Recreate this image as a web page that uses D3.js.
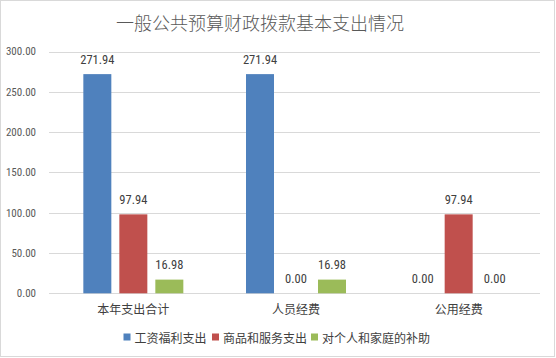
<!DOCTYPE html>
<html><head><meta charset="utf-8">
<script src="https://cdn.jsdelivr.net/npm/d3@7/dist/d3.min.js"></script>
<style>body{margin:0;background:#fff}</style>
</head><body>
<svg id="c" width="556" height="358"></svg>
<script>
const title = "一般公共预算财政拨款基本支出情况";
const categories = ["本年支出合计", "人员经费", "公用经费"];
const seriesNames = ["工资福利支出", "商品和服务支出", "对个人和家庭的补助"];
const seriesWages = [271.94, 271.94, 0.00];
const seriesGoods = [97.94, 0.00, 97.94];
const seriesFamily = [16.98, 16.98, 0.00];
const yTicks = [0, 50, 100, 150, 200, 250, 300];
const colors = ["#4F81BD", "#C0504D", "#9BBB59"];

const seriesValues = [seriesWages, seriesGoods, seriesFamily];
const numFont = "'Roboto Condensed','Liberation Sans Narrow',Roboto,sans-serif";
const cjkFont = "'Noto Sans CJK SC','Noto Sans',sans-serif";

const svg = d3.select("#c");
svg.append("rect").attr("x",0.5).attr("y",0.5).attr("width",554).attr("height",356)
  .attr("fill","#fff").attr("stroke","#D9D9D9").attr("stroke-width",1);

svg.append("text").attr("x",260).attr("y",22).attr("text-anchor","middle")
  .attr("dominant-baseline","central").attr("font-family",cjkFont).attr("font-size",18)
  .attr("font-weight",300).attr("fill","#595959").text(title);

const y = d3.scaleLinear().domain([0,300]).range([293.3,51.5]);
const x0 = d3.scaleBand().domain(categories).range([52,540]).paddingInner(0).paddingOuter(0);
const x1 = d3.scaleBand().domain(d3.range(seriesNames.length)).range([0,100]).paddingInner(8/36).paddingOuter(0);

// gridlines
svg.append("g").selectAll("line").data(yTicks).join("line")
  .attr("x1",49).attr("x2",540)
  .attr("y1",d=>Math.round(y(d))+0.5).attr("y2",d=>Math.round(y(d))+0.5)
  .attr("stroke","#D9D9D9").attr("stroke-width",1);

// y tick labels
svg.append("g").selectAll("text").data(yTicks).join("text")
  .attr("x",36).attr("y",d=>y(d)).attr("text-anchor","end").attr("dy","0.35em")
  .attr("font-family",numFont).attr("font-size",11).attr("fill","#595959")
  .text(d=>d3.format(".2f")(d));

// bars
const groups = svg.append("g").selectAll("g").data(categories).join("g")
  .attr("transform",(d)=>`translate(${x0(d)+x0.bandwidth()/2-50},0)`);
groups.each(function(cat, ci){
  const g = d3.select(this);
  const data = seriesValues.map((s,si)=>({si, v:s[ci]}));
  g.selectAll("rect").data(data).join("rect")
    .attr("x",d=>x1(d.si)).attr("width",x1.bandwidth())
    .attr("y",d=>y(d.v)).attr("height",d=>y(0)-y(d.v))
    .attr("fill",d=>colors[d.si]);
  g.selectAll("text").data(data).join("text")
    .attr("x",d=>x1(d.si)+x1.bandwidth()/2).attr("y",d=>y(d.v)-10.5)
    .attr("text-anchor","middle").attr("font-family",numFont).attr("font-size",12.5)
    .attr("fill","#404040").text(d=>d3.format(".2f")(d.v));
});

// category labels
svg.append("g").selectAll("text").data(categories).join("text")
  .attr("x",d=>x0(d)+x0.bandwidth()/2).attr("y",308.5).attr("dominant-baseline","central")
  .attr("text-anchor","middle").attr("font-family",cjkFont).attr("font-size",12)
  .attr("fill","#404040").text(d=>d);

// legend
const legendX = [123.5, 212, 311];
const lg = svg.append("g").selectAll("g").data(seriesNames).join("g")
  .attr("transform",(d,i)=>`translate(${legendX[i]},337)`);
lg.append("rect").attr("x",0).attr("y",-3.5).attr("width",7).attr("height",7).attr("fill",(d,i)=>colors[i]);
lg.append("text").attr("x",11).attr("y",0).attr("dominant-baseline","central")
  .attr("font-family",cjkFont).attr("font-size",12).attr("fill","#404040").text(d=>d);
</script>
</body></html>
